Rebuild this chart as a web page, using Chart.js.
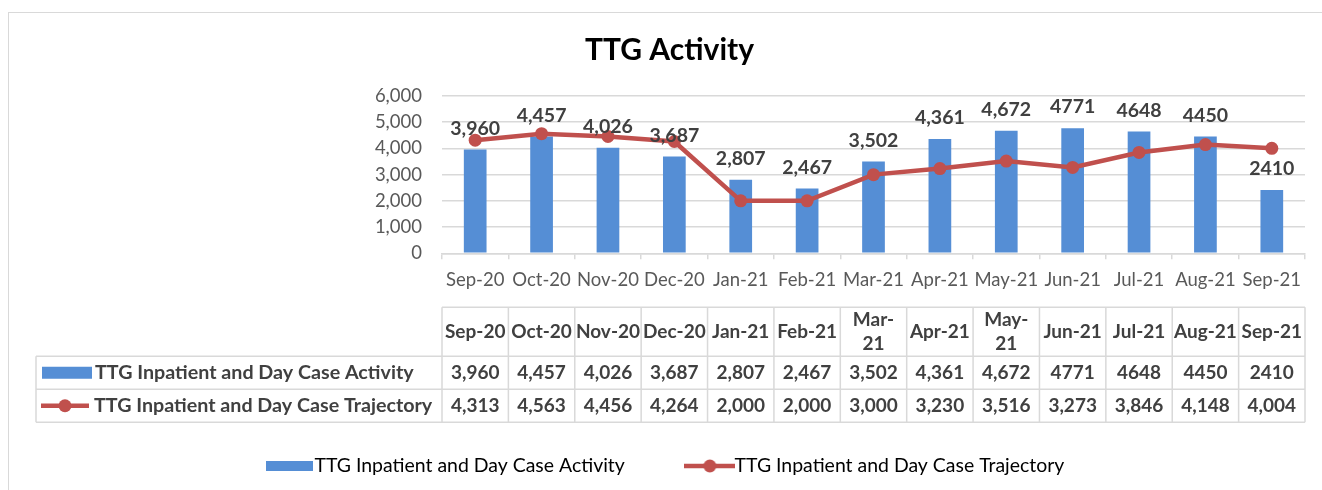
<!DOCTYPE html>
<html><head><meta charset="utf-8">
<script src="https://cdn.jsdelivr.net/npm/chart.js@4.4.1/dist/chart.umd.min.js"></script>
<style>
html,body{margin:0;padding:0;background:#fff;overflow:hidden;}
#frame{position:absolute;left:8px;top:12px;width:1400px;height:600px;border:1.5px solid #d9d9d9;}
#wrap{position:absolute;left:0;top:0;width:1322px;height:490px;}
</style></head><body>
<div id="frame"></div>
<div id="wrap"><canvas id="c" width="1322" height="490"></canvas></div>
<script>
const categories = ['Sep-20','Oct-20','Nov-20','Dec-20','Jan-21','Feb-21','Mar-21','Apr-21','May-21','Jun-21','Jul-21','Aug-21','Sep-21'];
const tableHeaders = [['Sep-20'],['Oct-20'],['Nov-20'],['Dec-20'],['Jan-21'],['Feb-21'],['Mar-','21'],['Apr-21'],['May-','21'],['Jun-21'],['Jul-21'],['Aug-21'],['Sep-21']];
const activity = [3960,4457,4026,3687,2807,2467,3502,4361,4672,4771,4648,4450,2410];
const trajectory = [4313,4563,4456,4264,2000,2000,3000,3230,3516,3273,3846,4148,4004];
const activityLabels = ['3,960','4,457','4,026','3,687','2,807','2,467','3,502','4,361','4,672','4771','4648','4450','2410'];
const trajectoryLabels = ['4,313','4,563','4,456','4,264','2,000','2,000','3,000','3,230','3,516','3,273','3,846','4,148','4,004'];
const yTicks = [0,1000,2000,3000,4000,5000,6000];
const seriesNames = ['TTG Inpatient and Day Case Activity','TTG Inpatient and Day Case Trajectory'];

const BLUE = '#558ED5', RED = '#C0504D', TXT = '#404040', GRID = '#d9d9d9';
const FONT = 'Lato';

function makeBarSym(w,h){const c=document.createElement('canvas');c.width=w;c.height=h;const x=c.getContext('2d');x.fillStyle=BLUE;x.fillRect(0,0,w,h);return c;}
function makeLineSym(w,h){const c=document.createElement('canvas');c.width=w;c.height=h;const x=c.getContext('2d');x.strokeStyle=RED;x.lineWidth=4.5;x.beginPath();x.moveTo(0,h/2);x.lineTo(w,h/2);x.stroke();x.fillStyle=RED;x.beginPath();x.arc(w/2,h/2,6.5,0,Math.PI*2);x.fill();return c;}
const legSym1 = makeBarSym(47,10);
const legSym2 = makeLineSym(51,14);

const dataLabelPlugin = {
  id:'dataLabels',
  afterDatasetsDraw(chart){
    const ctx=chart.ctx;
    const meta=chart.getDatasetMeta(1);
    ctx.save();
    ctx.font='bold 19.5px '+FONT;ctx.fillStyle=TXT;ctx.textAlign='center';ctx.textBaseline='middle';
    meta.data.forEach((bar,i)=>{ctx.fillText(activityLabels[i],bar.x,bar.y-21);});
    ctx.restore();
  }
};

const tablePlugin = {
  id:'dataTable',
  afterDraw(chart){
    const ctx=chart.ctx, xs=chart.scales.x, ca=chart.chartArea;
    const n=categories.length, colW=xs.width/n, L=xs.left, R=xs.right;
    const b=ca.bottom;
    const yTop=b+54, yH=b+103, yR1=b+136, yR2=b+169;
    const labL=36;
    ctx.save();
    ctx.strokeStyle=GRID;ctx.lineWidth=1.5;
    ctx.beginPath();
    ctx.moveTo(L,yTop);ctx.lineTo(R,yTop);
    ctx.moveTo(labL,yH);ctx.lineTo(R,yH);
    ctx.moveTo(labL,yR1);ctx.lineTo(R,yR1);
    ctx.moveTo(labL,yR2);ctx.lineTo(R,yR2);
    for(let i=0;i<=n;i++){const x=L+i*colW;ctx.moveTo(x,yTop);ctx.lineTo(x,yR2);}
    ctx.moveTo(labL,yH);ctx.lineTo(labL,yR2);
    ctx.stroke();
    ctx.fillStyle=TXT;ctx.font='bold 19px '+FONT;ctx.textAlign='center';ctx.textBaseline='middle';
    for(let i=0;i<n;i++){
      const cx=L+(i+0.5)*colW;
      const h=tableHeaders[i];
      if(h.length===1){ctx.fillText(h[0],cx,(yTop+yH)/2);} else {ctx.fillText(h[0],cx,(yTop+yH)/2-12);ctx.fillText(h[1],cx,(yTop+yH)/2+12);}
      ctx.fillText(activityLabels[i],cx,(yH+yR1)/2);
      ctx.fillText(trajectoryLabels[i],cx,(yR1+yR2)/2);
    }
    ctx.textAlign='left';
    const r1=(yH+yR1)/2, r2=(yR1+yR2)/2;
    ctx.fillStyle=BLUE;ctx.fillRect(42,r1-6,50,12);
    ctx.strokeStyle=RED;ctx.lineWidth=4.5;ctx.beginPath();ctx.moveTo(41,r2);ctx.lineTo(89,r2);ctx.stroke();
    ctx.fillStyle=RED;ctx.beginPath();ctx.arc(65,r2,6.5,0,Math.PI*2);ctx.fill();
    ctx.fillStyle=TXT;ctx.font='bold 19.7px '+FONT;
    ctx.fillText(seriesNames[0],95,r1);
    ctx.fillText(seriesNames[1],94,r2);
    ctx.restore();
  }
};

new Chart(document.getElementById('c'),{
  data:{
    labels:categories,
    datasets:[
      {type:'line',label:seriesNames[1],data:trajectory,borderColor:RED,backgroundColor:RED,borderWidth:4.5,pointRadius:6.5,pointHoverRadius:6.5,pointBackgroundColor:RED,pointBorderWidth:0,tension:0,order:0,yAxisID:'y'},
      {type:'bar',label:seriesNames[0],data:activity,backgroundColor:BLUE,borderWidth:0,categoryPercentage:1,barPercentage:0.342,order:1,yAxisID:'y'}
    ]
  },
  options:{
    responsive:false,animation:false,
    layout:{padding:{left:17,right:0,top:0,bottom:4.3}},
    plugins:{
      title:{display:true,text:'TTG Activity',color:'#000',font:{family:FONT,size:30,weight:'bold'},padding:{top:32,bottom:28}},
      legend:{position:'bottom',labels:{
        usePointStyle:true,pointStyleWidth:30,padding:70,color:'#595959',font:{family:FONT,size:19.45},
        generateLabels:()=>[
          {text:seriesNames[0],pointStyle:legSym1,fillStyle:BLUE,strokeStyle:BLUE,lineWidth:0,hidden:false,datasetIndex:1},
          {text:seriesNames[1],pointStyle:legSym2,fillStyle:RED,strokeStyle:RED,lineWidth:0,hidden:false,datasetIndex:0}
        ]}},
      tooltip:{enabled:false}
    },
    scales:{
      x:{offset:true,
        grid:{display:true,drawOnChartArea:false,drawTicks:true,tickLength:6,color:GRID,lineWidth:1.5,offset:true},
        border:{display:true,color:GRID,width:1.5},
        ticks:{color:'#595959',font:{family:FONT,size:18.5},padding:10,maxRotation:0,autoSkip:false},
        afterFit(s){s.height=133;}
      },
      y:{min:0,max:6000,afterBuildTicks(s){s.ticks=yTicks.map(v=>({value:v}));},
        grid:{color:GRID,lineWidth:1.5,drawTicks:false},
        border:{display:false},
        ticks:{color:'#595959',font:{family:FONT,size:18.5},padding:20,callback:v=>v.toLocaleString('en-US')},
        afterFit(s){s.width=425;}
      },
      y2:{position:'right',display:true,grid:{display:false},border:{display:false},ticks:{display:false},afterFit(s){s.width=17;}}
    }
  },
  plugins:[dataLabelPlugin,tablePlugin]
});
</script>
</body></html>
